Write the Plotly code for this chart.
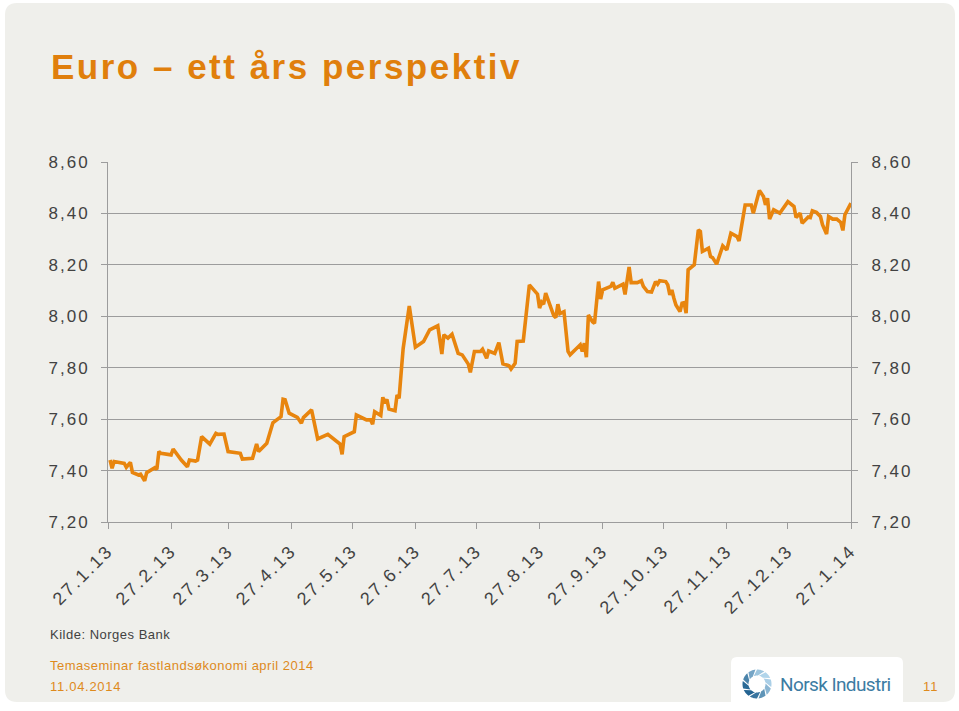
import plotly.graph_objects as go
import numpy as np

# ---------------- data ----------------
dates = [
    "2013-01-28", "2013-01-29", "2013-01-30", "2013-02-04", "2013-02-05", "2013-02-07", "2013-02-08",
    "2013-02-11", "2013-02-12", "2013-02-14", "2013-02-15", "2013-02-19", "2013-02-20", "2013-02-21",
    "2013-02-22", "2013-02-26", "2013-02-27", "2013-02-28", "2013-03-04", "2013-03-07", "2013-03-08",
    "2013-03-11", "2013-03-12", "2013-03-14", "2013-03-18", "2013-03-21", "2013-03-22", "2013-03-25",
    "2013-03-27", "2013-04-02", "2013-04-03", "2013-04-08", "2013-04-10", "2013-04-11", "2013-04-15",
    "2013-04-18", "2013-04-22", "2013-04-23", "2013-04-24", "2013-04-26", "2013-04-30", "2013-05-02",
    "2013-05-03", "2013-05-07", "2013-05-10", "2013-05-15", "2013-05-21", "2013-05-22", "2013-05-23",
    "2013-05-28", "2013-05-29", "2013-06-03", "2013-06-05", "2013-06-06", "2013-06-07", "2013-06-10",
    "2013-06-11", "2013-06-12", "2013-06-13", "2013-06-14", "2013-06-17", "2013-06-18", "2013-06-19",
    "2013-06-20", "2013-06-21", "2013-06-24", "2013-06-27", "2013-07-01", "2013-07-03", "2013-07-04",
    "2013-07-08", "2013-07-10", "2013-07-11", "2013-07-13", "2013-07-15", "2013-07-18", "2013-07-20",
    "2013-07-23", "2013-07-24", "2013-07-26", "2013-07-29", "2013-07-30", "2013-08-01", "2013-08-02",
    "2013-08-05", "2013-08-07", "2013-08-09", "2013-08-12", "2013-08-13", "2013-08-15", "2013-08-16",
    "2013-08-19", "2013-08-22", "2013-08-26", "2013-08-27", "2013-08-28", "2013-08-29", "2013-08-30",
    "2013-09-03", "2013-09-04", "2013-09-05", "2013-09-06", "2013-09-08", "2013-09-10", "2013-09-11",
    "2013-09-13", "2013-09-16", "2013-09-17", "2013-09-18", "2013-09-19", "2013-09-20", "2013-09-22",
    "2013-09-23", "2013-09-25", "2013-09-26", "2013-09-27", "2013-10-01", "2013-10-02", "2013-10-03",
    "2013-10-07", "2013-10-08", "2013-10-10", "2013-10-11", "2013-10-14", "2013-10-16", "2013-10-17",
    "2013-10-19", "2013-10-21", "2013-10-23", "2013-10-24", "2013-10-25", "2013-10-28", "2013-10-29",
    "2013-10-30", "2013-10-31", "2013-11-01", "2013-11-02", "2013-11-04", "2013-11-05", "2013-11-06",
    "2013-11-07", "2013-11-08", "2013-11-11", "2013-11-13", "2013-11-14", "2013-11-15", "2013-11-18",
    "2013-11-19", "2013-11-20", "2013-11-22", "2013-11-25", "2013-11-27", "2013-11-29", "2013-12-02",
    "2013-12-03", "2013-12-06", "2013-12-09", "2013-12-10", "2013-12-13", "2013-12-15", "2013-12-16",
    "2013-12-17", "2013-12-18", "2013-12-20", "2013-12-23", "2013-12-27", "2013-12-30", "2013-12-31",
    "2014-01-02", "2014-01-03", "2014-01-06", "2014-01-07", "2014-01-08", "2014-01-10", "2014-01-12",
    "2014-01-13", "2014-01-15", "2014-01-16", "2014-01-18", "2014-01-20", "2014-01-22", "2014-01-23",
    "2014-01-24", "2014-01-27",
]
eur_nok = [
    7.441, 7.409, 7.435, 7.428, 7.413, 7.432, 7.393,
    7.383, 7.386, 7.360, 7.392, 7.411, 7.405, 7.474,
    7.467, 7.465, 7.461, 7.484, 7.441, 7.415, 7.441,
    7.437, 7.441, 7.532, 7.503, 7.545, 7.541, 7.542,
    7.474, 7.467, 7.445, 7.448, 7.503, 7.474, 7.506,
    7.586, 7.610, 7.677, 7.675, 7.623, 7.607, 7.584,
    7.606, 7.636, 7.523, 7.541, 7.503, 7.463, 7.532,
    7.551, 7.616, 7.597, 7.597, 7.580, 7.629, 7.614,
    7.685, 7.662, 7.677, 7.639, 7.633, 7.694, 7.681,
    7.780, 7.875, 8.040, 7.880, 7.902, 7.928, 7.947,
    7.963, 7.853, 7.928, 7.915, 7.930, 7.856, 7.850,
    7.814, 7.782, 7.863, 7.863, 7.872, 7.837, 7.865,
    7.856, 7.898, 7.815, 7.808, 7.795, 7.817, 7.902,
    7.904, 8.122, 8.086, 8.032, 8.055, 8.047, 8.090,
    8.002, 7.995, 8.047, 8.010, 8.018, 7.863, 7.850,
    7.865, 7.889, 7.863, 7.895, 7.841, 8.005, 7.979,
    7.973, 8.135, 8.067, 8.103, 8.116, 8.132, 8.109,
    8.125, 8.085, 8.192, 8.131, 8.131, 8.138, 8.116,
    8.096, 8.094, 8.135, 8.125, 8.138, 8.135, 8.122,
    8.083, 8.103, 8.070, 8.044, 8.018, 8.051, 8.053,
    8.012, 8.181, 8.200, 8.336, 8.330, 8.252, 8.265,
    8.232, 8.228, 8.203, 8.274, 8.258, 8.323, 8.310,
    8.293, 8.433, 8.433, 8.401, 8.489, 8.466, 8.433,
    8.459, 8.378, 8.414, 8.401, 8.446, 8.427, 8.384,
    8.401, 8.362, 8.386, 8.384, 8.410, 8.404, 8.388,
    8.356, 8.320, 8.388, 8.378, 8.378, 8.365, 8.334,
    8.395, 8.440,
]
tick_dates = [
    "2013-01-27", "2013-02-27", "2013-03-27", "2013-04-27", "2013-05-27", "2013-06-27", "2013-07-27",
    "2013-08-27", "2013-09-27", "2013-10-27", "2013-11-27", "2013-12-27", "2014-01-27",
]
tick_labels = [
    "27.1.13", "27.2.13", "27.3.13", "27.4.13", "27.5.13", "27.6.13", "27.7.13",
    "27.8.13", "27.9.13", "27.10.13", "27.11.13", "27.12.13", "27.1.14",
]
y_ticks = [7.20, 7.40, 7.60, 7.80, 8.00, 8.20, 8.40, 8.60]

title_text = "Euro \u2013 ett \u00e5rs perspektiv"
source_text = "Kilde: Norges Bank"
footer_text = "Temaseminar fastlandsøkonomi april 2014"
footer_date = "11.04.2014"
logo_text = "Norsk Industri"
page_no = "11"

# ---------------- geometry helpers ----------------
W, H = 959, 711
L, R, T, B = 108, 851, 162, 522


def px(x):
    return (x - L) / (R - L)


def py(y):
    return (B - y) / (B - T)


ORANGE = "#E8850E"
TXT_OR = "#DE8A1C"
GREY = "#9c9c9c"
TXT = "#424242"
FONT = "Liberation Sans"

fig = go.Figure()
fig.add_trace(go.Scatter(
    x=dates, y=eur_nok, mode="lines",
    line=dict(color=ORANGE, width=3.6),
    hoverinfo="skip", showlegend=False,
))
# same series bound to the right-hand axis (invisible) so that axis is drawn
fig.add_trace(go.Scatter(
    x=dates, y=eur_nok, mode="lines", yaxis="y2",
    line=dict(color="rgba(0,0,0,0)", width=0),
    hoverinfo="skip", showlegend=False,
))

# ---------------- background panel (rounded) ----------------
def rounded_rect(x0, y0, x1, y1, r):
    X0, X1 = px(x0), px(x1)
    Y0, Y1 = py(y0), py(y1)
    rx = r / (R - L)
    ry = r / (B - T)
    return (f"M {X0+rx},{Y0} L {X1-rx},{Y0} Q {X1},{Y0} {X1},{Y0-ry} "
            f"L {X1},{Y1+ry} Q {X1},{Y1} {X1-rx},{Y1} L {X0+rx},{Y1} "
            f"Q {X0},{Y1} {X0},{Y1+ry} L {X0},{Y0-ry} Q {X0},{Y0} {X0+rx},{Y0} Z")


shapes = [
    dict(type="path", xref="paper", yref="paper", path=rounded_rect(5, 3, 955, 702, 12),
         fillcolor="#EFEFEB", line=dict(width=0), layer="below"),
    dict(type="path", xref="paper", yref="paper", path=rounded_rect(731, 657, 903, 716, 6),
         fillcolor="#FFFFFF", line=dict(width=0), layer="below"),
]

# logo icon: swirl ring of blades
cx, cy = 757, 684
n_bl = 10
light = np.array([178, 214, 236])
dark = np.array([36, 100, 146])
for i in range(n_bl):
    a0 = np.deg2rad(90 - i * 36)
    outer = [a0 - np.deg2rad(k) for k in np.linspace(0, 30, 8)]
    inner = [a0 - np.deg2rad(k) for k in np.linspace(-22, 6, 8)][::-1]
    pts = [(cx + 14.5 * np.cos(a), cy - 14.5 * np.sin(a)) for a in outer]
    pts += [(cx + 8.5 * np.cos(a), cy - 8.5 * np.sin(a)) for a in inner]
    path = "M " + " L ".join(f"{px(x)},{py(y)}" for x, y in pts) + " Z"
    t = (np.cos(np.deg2rad(90 - i * 36) - np.deg2rad(45)) + 1) / 2
    c = (light * t + dark * (1 - t)).astype(int)
    shapes.append(dict(type="path", xref="paper", yref="paper", path=path,
                       fillcolor=f"rgb({c[0]},{c[1]},{c[2]})", line=dict(width=0), layer="above"))

# ---------------- annotations ----------------
ann = [
    dict(text=title_text, x=px(49), y=py(66), font=dict(family=FONT, size=35, color="#E07F0C", weight="bold")),
    dict(text=source_text, x=px(48), y=py(634), font=dict(family=FONT, size=13, color=TXT)),
    dict(text=footer_text, x=px(48), y=py(665), font=dict(family=FONT, size=13, color=TXT_OR)),
    dict(text=footer_date, x=px(48), y=py(686), font=dict(family=FONT, size=13, color=TXT_OR)),
    dict(text=logo_text, x=px(778), y=py(684), font=dict(family="Roboto", size=19, color="#3C7CA3")),
    dict(text=page_no, x=px(921), y=py(686), font=dict(family=FONT, size=13, color=TXT_OR)),
]
annotations = []
for a in ann:
    annotations.append(dict(xref="paper", yref="paper", xanchor="left", yanchor="middle",
                            align="left", showarrow=False, **a))

axis_common = dict(
    showline=True, linecolor=GREY, linewidth=1,
    ticks="outside", ticklen=6, tickcolor=GREY, tickwidth=1,
    zeroline=False, automargin=False,
)

fig.update_layout(
    width=W, height=H,
    margin=dict(l=L, r=W - R, t=T, b=H - B, pad=0),
    paper_bgcolor="#FFFFFF",
    plot_bgcolor="rgba(0,0,0,0)",
    separators=", ",
    showlegend=False,
    shapes=shapes,
    annotations=annotations,
    xaxis=dict(
        type="date", range=[tick_dates[0], tick_dates[-1]],
        tickmode="array", tickvals=tick_dates, ticktext=tick_labels,
        tickangle=-45, showgrid=False,
        tickfont=dict(family=FONT, size=18, color=TXT),
        ticklabelstandoff=4,
        **axis_common,
    ),
    yaxis=dict(
        range=[7.2, 8.6], tickmode="array", tickvals=y_ticks, tickformat=".2f",
        showgrid=True, gridcolor=GREY, gridwidth=1,
        tickfont=dict(family=FONT, size=17, color=TXT),
        ticklabelstandoff=8,
        **axis_common,
    ),
    yaxis2=dict(
        range=[7.2, 8.6], tickmode="array", tickvals=y_ticks, tickformat=".2f",
        overlaying="y", side="right", showgrid=False,
        tickfont=dict(family=FONT, size=17, color=TXT),
        ticklabelstandoff=10,
        **axis_common,
    ),
)

post = """
document.documentElement.style.margin = '0';
document.body.style.margin = '0';
document.body.style.overflow = 'hidden';
var gd = document.getElementById('{plot_id}');
var annSp = {0: '2.5px', 1: '0.5px', 2: '0.5px', 3: '0.7px', 4: '-0.6px', 5: '1px'};
function sp() {
  gd.querySelectorAll('.ytick text, .y2tick text').forEach(function(t){ t.style.letterSpacing = '2px'; });
  gd.querySelectorAll('.xtick text').forEach(function(t){ t.style.letterSpacing = '2.4px'; });
  gd.querySelectorAll('.annotation').forEach(function(a){
    var i = a.getAttribute('data-index');
    var t = a.querySelector('.annotation-text');
    if (t && annSp[i] !== undefined) { t.style.letterSpacing = annSp[i]; }
  });
}
sp();
gd.on('plotly_afterplot', sp);
"""

fig.write_html("out.html", post_script=post, config={"displayModeBar": False})
